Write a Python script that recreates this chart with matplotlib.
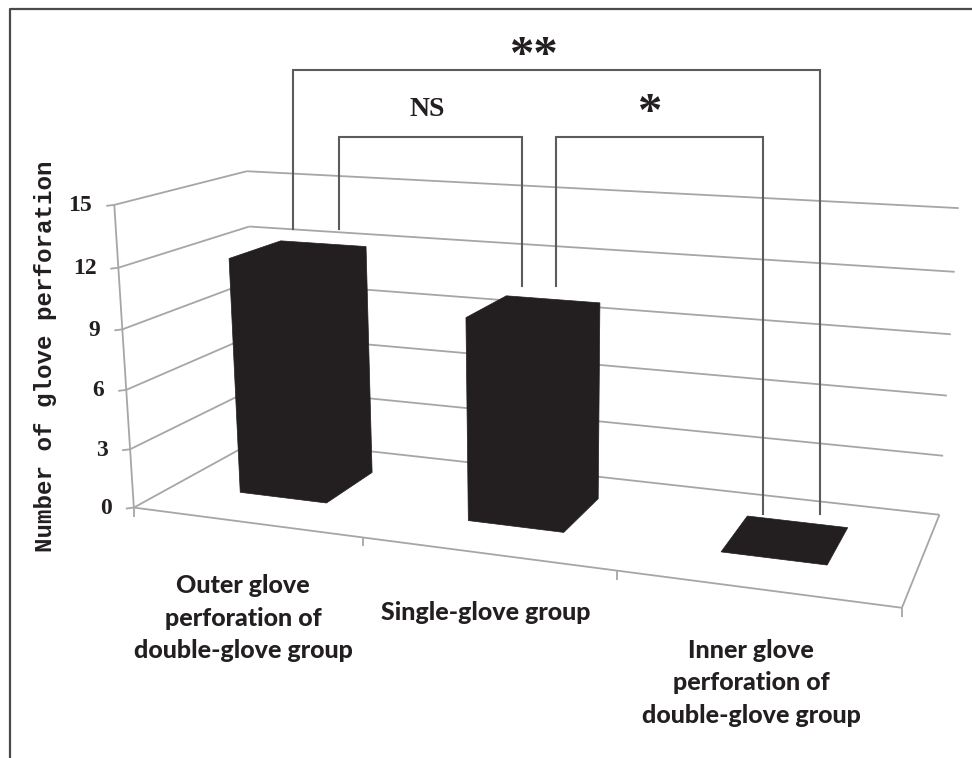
import numpy as np
import matplotlib
matplotlib.use('Agg')
import matplotlib.pyplot as plt
from matplotlib.patches import Polygon

# ---- data ----
categories = ['Outer glove\nperforation of\ndouble-glove group',
              'Single-glove group',
              'Inner glove\nperforation of\ndouble-glove group']
perforations = [12, 10, 0]
value_ticks = [0, 3, 6, 9, 12, 15]
y_title = 'Number of glove perforation'

# ---- layout of the pictured 3-D box: world (category, depth, value) -> pixel ----
anchors = [((0, 0, 0), (135, 507)), ((1, 0, 0), (363, 538)), ((2, 0, 0), (617, 572)),
           ((3, 0, 0), (902, 607)), ((3, 1, 0), (939, 514)),
           ((0, 0, 15), (115, 205)), ((0, 1, 15), (248, 171)), ((3, 1, 15), (958, 208)),
           ((0, 1, 12), (248, 227)), ((3, 1, 12), (955, 272)), ((0, 0, 12), (118, 267)),
           ((0, 0, 6), (125, 390)), ((3, 1, 6), (948, 396))]
rows = []
for (cx, cy, cz), (u, v) in anchors:
    X = [cx / 3, cy, cz / 15, 1]
    u, v = u / 1000, v / 1000
    rows.append(X + [0, 0, 0, 0] + [-u * k for k in X])
    rows.append([0, 0, 0, 0] + X + [-v * k for k in X])
P = np.linalg.svd(np.array(rows))[2][-1].reshape(3, 4)


def proj(cx, cy, cz):
    h = P @ np.array([cx / 3, cy, cz / 15, 1])
    return h[:2] / h[2] * 1000


fig = plt.figure(figsize=(9.72, 7.58), dpi=100)
ax = fig.add_axes([0, 0, 1, 1])
ax.set_xlim(0, 972)
ax.set_ylim(758, 0)
ax.axis('off')

GRID = '#a6a6a6'
DARK = '#231f20'
BR = '#5c5c5c'


def line(a, b, color=GRID, lw=1.3, z=1):
    ax.plot([a[0], b[0]], [a[1], b[1]], color=color, lw=lw, zorder=z, solid_capstyle='butt')


n = len(categories)
# frame: only top and left edges show
ax.plot([9.5, 9.5, 972], [758, 8.5, 8.5], color='#4a4a4a', lw=1.6, zorder=0)

# walls and floor
for t in value_ticks:
    a, b, c = proj(0, 0, t), proj(0, 1, t), proj(n, 1, t)
    line(a, b)
    line(b, c)
    line(a, a - np.array([8, -1]))
    ax.text(a[0] - 22, a[1] + 1, str(t), ha='right', va='center', fontsize=17,
            family='Liberation Serif', weight='bold', color=DARK)
line(proj(0, 0, 0), proj(0, 0, 15))
line(proj(0, 0, 0), proj(n, 0, 0))
line(proj(n, 0, 0), proj(n, 1, 0))
for i in range(n + 1):
    p = proj(i, 0, 0)
    line(p, p + np.array([0, 9]))

# bars
half_w, d0, d1 = 0.195, 0.31, 0.73
for i, val in enumerate(perforations):
    c = i + 0.495
    x0, x1 = c - half_w, c + half_w
    if val > 0:
        pts = [proj(x0, d0, 0), proj(x1, d0, 0), proj(x1, d1, 0), proj(x1, d1, val),
               proj(x0, d1, val), proj(x0, d0, val)]
    else:
        pts = [proj(x0, d0, 0), proj(x1, d0, 0), proj(x1, d1, 0), proj(x0, d1, 0)]
    ax.add_patch(Polygon(pts, closed=True, fc=DARK, ec=DARK, lw=0.5, zorder=3))

# significance brackets
for xs, ys in [([293, 293, 820, 820], [229, 70, 70, 514]),
               ([339, 339, 522, 522], [229, 137, 137, 286]),
               ([556, 556, 763, 763], [286, 137, 137, 514])]:
    ax.plot(xs, ys, color=BR, lw=1.5, zorder=2, solid_joinstyle='miter')

star = dict(family='Liberation Serif', weight='bold', color=DARK, ha='center', va='center',
            fontsize=35)
ax.text(534, 57, '**', **star)
ax.text(650, 114, '*', **star)
ax.text(427, 110, 'NS', family='Liberation Serif', weight='bold', color=DARK, ha='center',
        va='center', fontsize=20)
ax.text(46, 356, y_title, rotation=90, va='center', ha='center', fontsize=17.4,
        family='Liberation Mono', weight='bold', color=DARK)

# category labels
lab = dict(family='Lato', weight=900, color=DARK, ha='center', va='center',
           fontsize=18, linespacing=1.5)
for s, (x, y) in zip(categories, [(243, 618), (486, 613), (751, 683)]):
    ax.text(x, y, s, **lab)

fig.savefig('out.png')
